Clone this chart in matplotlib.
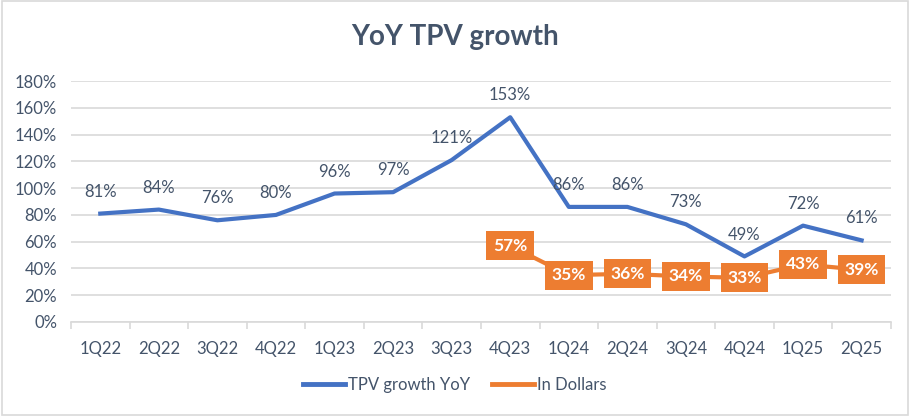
import matplotlib; matplotlib.use("Agg")
import matplotlib.pyplot as plt
from matplotlib.ticker import FuncFormatter, FixedLocator
from matplotlib.lines import Line2D

quarters = ["1Q22", "2Q22", "3Q22", "4Q22", "1Q23", "2Q23", "3Q23", "4Q23",
            "1Q24", "2Q24", "3Q24", "4Q24", "1Q25", "2Q25"]
tpv_growth = [81, 84, 76, 80, 96, 97, 121, 153, 86, 86, 73, 49, 72, 61]
dollar_quarters = ["4Q23", "1Q24", "2Q24", "3Q24", "4Q24", "1Q25", "2Q25"]
dollar_growth = [57, 35, 36, 34, 33, 43, 39]

blue = "#4472C4"; orange = "#ED7D31"; txt = "#44546A"; grid = "#D9D9D9"
plt.rcParams['font.family'] = ['Lato', 'DejaVu Sans']

fig = plt.figure(figsize=(9.1, 4.16), dpi=100)
ax = fig.add_axes([0.078, 0.226, 0.901, 0.579])
x = list(range(len(quarters)))
xd = [quarters.index(q) for q in dollar_quarters]

ax.plot(x, tpv_growth, color=blue, lw=3, solid_joinstyle="round", zorder=3)
ax.plot(xd, dollar_growth, color=orange, lw=3, solid_joinstyle="round", zorder=3)
for xi, v in zip(x, tpv_growth):
    ax.annotate(f"{v}%", (xi, v), xytext=(0, 10), textcoords="offset points",
                ha="center", va="bottom", fontsize=12, color=txt)
for xi, v in zip(xd, dollar_growth):
    ax.text(xi, v, f"{v}%", ha="center", va="center", fontsize=12.5, color="white",
            fontweight="bold", zorder=5,
            bbox=dict(boxstyle="square,pad=0.38", fc=orange, ec="none"))

ax.set_xlim(-0.5, len(quarters) - 0.5)
ax.set_ylim(0, 180)
ax.set_yticks(range(0, 181, 20))
ax.yaxis.set_major_formatter(FuncFormatter(lambda v, p: f"{v:.0f}%"))
ax.grid(axis="y", color=grid, lw=1.2)
ax.set_axisbelow(True)
ax.set_xticks(x)
ax.set_xticklabels(quarters)
ax.xaxis.set_minor_locator(FixedLocator([i - 0.5 for i in range(len(quarters) + 1)]))
ax.tick_params(axis="x", which="major", length=0, pad=14, labelsize=12, labelcolor=txt)
ax.tick_params(axis="x", which="minor", length=5, color=grid, width=1.2)
ax.tick_params(axis="y", length=0, pad=10, labelsize=12, labelcolor=txt)
for s in ["top", "right", "left"]:
    ax.spines[s].set_visible(False)
ax.spines["bottom"].set_color(grid)
ax.spines["bottom"].set_linewidth(1.2)

fig.text(0.5, 0.91, "YoY TPV growth", ha="center", va="center", fontsize=20,
         fontweight="bold", color=txt)
handles = [Line2D([], [], color=blue, lw=3.5), Line2D([], [], color=orange, lw=3.5)]
fig.legend(handles, ["TPV growth YoY", "In Dollars"], loc="center", ncol=2,
           bbox_to_anchor=(0.5, 0.074), frameon=False, fontsize=12,
           labelcolor=txt, handlelength=2.5, handletextpad=0.2, columnspacing=1.3)

fig.add_artist(plt.Rectangle((0.002, 0.003), 0.996, 0.994, transform=fig.transFigure,
                             fill=False, ec=grid, lw=1.2))
plt.savefig("out.png", dpi=100)
